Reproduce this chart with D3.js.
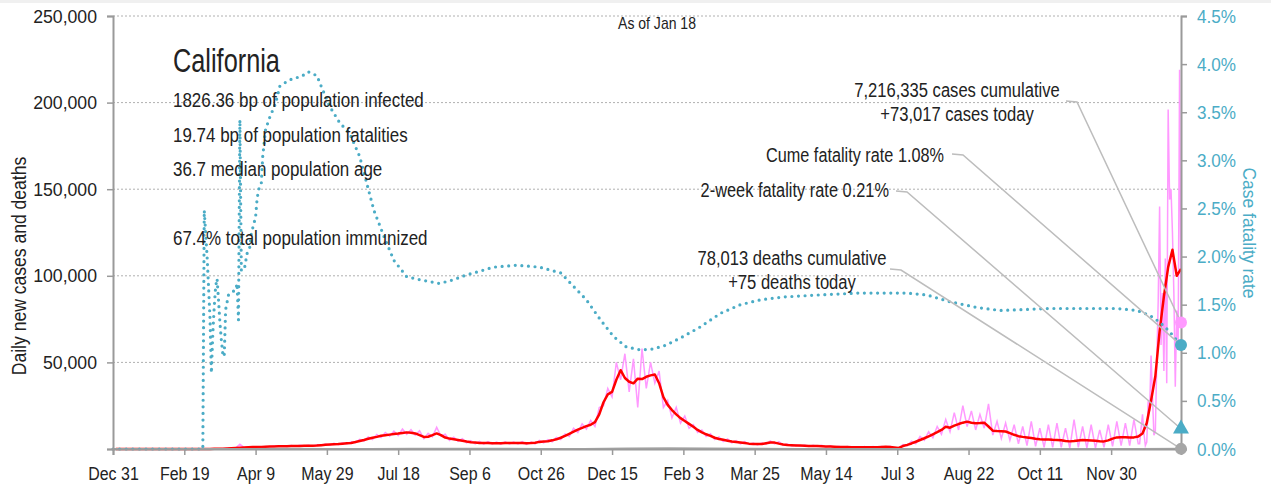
<!DOCTYPE html>
<html>
<head>
<meta charset="utf-8">
<script src="https://cdn.jsdelivr.net/npm/d3@7"></script>
<style>
  body { margin: 0; background: #fff; }
  svg text { font-family: "Liberation Sans", Arial, sans-serif; fill: #222; }
</style>
</head>
<body>
<svg id="chart" width="1271" height="491"></svg>
<script>
// days are counted from Dec 31, 2019; last point is Jan 18, 2022
const lastDay = 749;
const xTickLabels = ["Dec 31", "Feb 19", "Apr 9", "May 29", "Jul 18", "Sep 6", "Oct 26", "Dec 15",
  "Feb 3", "Mar 25", "May 14", "Jul 3", "Aug 22", "Oct 11", "Nov 30"];

// 7-day average of new cases, thousands, one value every 3 days starting day 2
const caseStart = 2, caseStep = 3;
const avgCasesK = [
  0, 0, 0, 0, 0, 0, 0, 0, 0, 0,
  0, 0, 0, 0, 0, 0, 0, 0, 0, 0,
  0, 0.02, 0.05, 0.1, 0.15, 0.2, 0.3, 0.45, 0.6, 0.75,
  0.9, 1.0, 1.1, 1.15, 1.2, 1.3, 1.4, 1.5, 1.55, 1.6,
  1.65, 1.7, 1.8, 1.8, 1.85, 1.9, 1.9, 2.0, 2.2, 2.4,
  2.6, 2.8, 2.9, 3.1, 3.3, 3.5, 4.0, 4.6, 5.2, 5.9,
  6.5, 7.0, 7.6, 8.0, 8.3, 8.6, 8.9, 9.3, 9.6, 9.4,
  9.0, 8.0, 7.0, 7.1, 8.0, 9.0, 8.0, 6.6, 6.0, 5.6,
  5.2, 4.8, 4.3, 3.9, 3.7, 3.5, 3.4, 3.4, 3.3, 3.3,
  3.3, 3.4, 3.4, 3.4, 3.4, 3.4, 3.3, 3.4, 3.6, 4.1,
  4.3, 4.5, 5.0, 5.6, 6.5, 7.6, 8.8, 10, 11.2, 12.2,
  13.2, 14, 15.5, 20, 27, 31.5, 33, 40, 45.5, 41,
  38.8, 37.9, 40.6, 40.4, 41.7, 42.5, 43, 38, 30, 25.5,
  22.5, 20, 17.8, 16.2, 14.5, 12.8, 11, 9.6, 8.5, 7.6,
  6.5, 5.8, 5.3, 4.8, 4.3, 4.0, 3.7, 3.4, 3.1, 2.9,
  2.9, 2.9, 3.3, 3.7, 3.7, 3.1, 2.6, 2.3, 2.2, 2.0,
  1.95, 1.9, 1.8, 1.75, 1.7, 1.6, 1.5, 1.4, 1.3, 1.2,
  1.15, 1.1, 1.05, 1.0, 1.0, 1.0, 1.0, 1.0, 1.05, 1.15,
  1.3, 1.2, 0.9, 0.6, 1.7, 2.4, 3.2, 4.2, 5.2, 6.2,
  7.3, 8.5, 9.7, 11, 12.8, 12.3, 13.5, 14.4, 15.2, 15.8,
  15.2, 14.9, 15.0, 15.2, 13, 10.6, 10.4, 10.3, 10.1, 9.2,
  8.2, 7.4, 7.0, 6.7, 6.3, 5.9, 5.6, 5.5, 5.5, 5.3,
  5.2, 5.0, 4.6, 4.4, 4.6, 4.9, 5.2, 5.1, 4.9, 4.7,
  4.5, 4.4, 5.0, 6.0, 6.7, 6.8, 6.8, 6.7, 6.7, 7.2,
  9, 15, 28, 42, 68, 88, 105, 115, 100, 104
];

// daily new cases, thousands, every 3 days from day 2 to day 719
const dailyCasesK = [
  0, 0, 0, 0, 0, 0, 0, 0, 0, 0,
  0, 0, 0, 0, 0, 0, 0, 0, 0, 0,
  0, 0.03, 0.04, 0.1, 0.2, 0.15, 0.35, 0.5, 0.6, 2.8,
  0.8, 1.2, 0.9, 1.3, 1.0, 1.5, 1.2, 1.7, 1.4, 1.8,
  1.4, 2.0, 1.6, 2.1, 1.7, 2.2, 1.6, 2.4, 2.0, 2.8,
  2.2, 3.3, 2.5, 3.6, 2.9, 4.2, 3.6, 5.6, 4.6, 7.0,
  5.5, 8.4, 6.6, 9.5, 7.4, 10.3, 7.8, 11.5, 8.5, 11.2,
  8.0, 10.5, 6.0, 9.0, 7.0, 12.5, 7.5, 8.5, 5.0, 6.8,
  4.5, 6.0, 3.6, 4.8, 3.0, 4.4, 2.8, 4.2, 2.9, 4.0,
  2.8, 4.1, 2.9, 4.0, 2.9, 4.2, 2.7, 4.0, 3.0, 5.0,
  3.6, 5.4, 4.2, 6.7, 5.5, 8.7, 7.2, 12, 9.5, 14.5,
  11.5, 16.5, 13, 24, 25, 35, 30, 50, 40, 55,
  33, 52, 24, 58, 35, 50, 38, 45, 24, 28,
  18, 24, 15, 19, 12, 14, 9.5, 11, 7.2, 8.8,
  5.5, 7.0, 4.3, 5.8, 3.6, 4.8, 3.0, 4.2, 2.6, 3.4,
  2.4, 3.5, 2.8, 4.6, 3.0, 4.2, 2.2, 2.8, 1.8, 2.4,
  1.6, 2.3, 1.5, 2.2, 1.4, 2.1, 1.2, 1.8, 1.0, 1.6,
  0.9, 1.4, 0.8, 1.3, 0.8, 1.4, 0.7, 1.4, 0.9, 1.5,
  1.1, 1.6, 0.3, 0.2, 2.6, 1.8, 4.5, 3.0, 7.2, 5.0,
  10, 6.5, 13, 8.5, 17, 10, 21, 11, 25, 13,
  22, 11, 20, 12, 26, 8, 16, 6, 15, 5,
  14, 3, 13, 2, 16, 1.5, 12, 1, 14, 1,
  15, 1, 12, 0.5, 17, 1, 13, 0.5, 14, 0.5,
  11, 1, 14, 1.5, 16, 2, 15, 2, 17, 3
];
// daily new cases, thousands, every day from day 720 to day 749
const lateStart = 720;
const lateDailyCasesK = [
  3, 12, 20, 9, 2, 4, 28, 22, 54, 30,
  8, 10, 50, 85, 140, 60, 90, 45, 110, 38,
  196, 144, 150, 125, 90, 36, 80, 60, 219, 73.017
];

// case fatality rate, %
const cfrDays = [0, 63, 64, 66, 67, 68, 69, 70, 71, 72, 73, 74, 75, 76, 77, 78, 79, 81, 83, 86,
  87, 88, 89, 90, 92, 94, 96, 97, 100, 101, 102, 104, 105, 107, 110, 114, 117, 122, 126, 132,
  137, 143, 146, 152, 159, 166, 173, 178, 183, 190, 197, 206, 215, 229, 239, 248, 253, 267, 283, 299,
  314, 323, 332, 342, 351, 360, 370, 379, 388, 400, 412, 426, 440, 454, 470, 494, 522, 557, 571, 587,
  606, 622, 657, 704, 718, 727, 734, 741, 749];
const cfrPct = [0, 0, 2.48, 2.0, 1.69, 1.37, 0.79, 1.2, 1.48, 1.69, 1.77, 1.55, 1.31, 1.13, 0.99, 0.96, 1.45, 1.6, 1.63, 1.65,
  1.72, 1.34, 3.42, 1.86, 1.86, 2.03, 2.1, 2.24, 2.41, 2.59, 2.69, 2.76, 3.04, 3.32, 3.45, 3.59, 3.77, 3.82, 3.85, 3.87,
  3.92, 3.88, 3.77, 3.56, 3.39, 3.28, 3.04, 2.76, 2.48, 2.21, 1.96, 1.79, 1.76, 1.72, 1.76, 1.81, 1.83, 1.89, 1.91, 1.89,
  1.83, 1.69, 1.55, 1.34, 1.17, 1.06, 1.03, 1.04, 1.08, 1.17, 1.27, 1.41, 1.50, 1.55, 1.58, 1.60, 1.62, 1.62, 1.60, 1.53,
  1.47, 1.44, 1.46, 1.46, 1.44, 1.39, 1.32, 1.22, 1.08];

// daily deaths (sits on the baseline at this scale)
const deathDays = [0, 60, 90, 120, 150, 180, 210, 240, 270, 300, 330, 360, 390, 420, 450, 480, 510, 540, 570, 600, 630, 660, 690, 720, 749];
const dailyDeaths = [0, 5, 60, 80, 70, 70, 130, 120, 80, 60, 50, 250, 500, 300, 120, 50, 30, 20, 30, 90, 100, 60, 40, 40, 75];

const todayCasesK = 73.017;
const cumeCfr = 1.08;
const twoWeekCfr = 0.21;
const todayDeaths = 75;

const stateName = "California";
const stateStats = ["1826.36 bp of population infected", "19.74 bp of population fatalities",
  "36.7 median population age", "", "67.4% total population immunized"];

const blue = "#4bacc6";
const leaderColor = "#bdbdbd";

const svg = d3.select("#chart");
svg.append("rect").attr("width", 1271).attr("height", 3).attr("fill", "#f0f0f0");

// narrow text: the reference uses a condensed face, so squeeze a regular one
function label(x, y, str, size, anchor, sx, fill) {
  return svg.append("text")
    .attr("transform", "translate(" + x + "," + y + ") scale(" + sx + ",1)")
    .style("text-anchor", anchor)
    .style("font-size", size + "px")
    .style("fill", fill || "#222")
    .text(str);
}

const x = d3.scaleLinear().domain([0, lastDay]).range([113, 1181]);
const yL = d3.scaleLinear().domain([0, 250]).range([449, 16]);
const yR = d3.scaleLinear().domain([0, 4.5]).range([449, 16]);

// gridlines
svg.append("g")
  .selectAll("line")
  .data([50, 100, 150, 200, 250])
  .enter()
  .append("line")
  .attr("x1", x(0)).attr("x2", x(lastDay))
  .attr("y1", d => yL(d)).attr("y2", d => yL(d))
  .attr("stroke", "#b0b0b0")
  .attr("stroke-width", 1)
  .attr("stroke-dasharray", "2,2");

// series
const avgData = avgCasesK.map((v, i) => [caseStart + i * caseStep, v]);
const dailyData = dailyCasesK.map((v, i) => [caseStart + i * caseStep, v])
  .concat(lateDailyCasesK.map((v, i) => [lateStart + i, v]));
const cfrData = cfrDays.map((d, i) => [d, cfrPct[i]]);
const deathData = deathDays.map((d, i) => [d, dailyDeaths[i] / 1000]);

const lineL = d3.line().x(d => x(d[0])).y(d => yL(d[1]));
const lineR = d3.line().x(d => x(d[0])).y(d => yR(d[1]));

svg.append("path").attr("d", lineL(dailyData))
  .attr("fill", "none").attr("stroke", "#ff99ff").attr("stroke-width", 1.5);
svg.append("path").attr("d", lineL(avgData))
  .attr("fill", "none").attr("stroke", "#ff0000").attr("stroke-width", 2.5)
  .attr("stroke-linejoin", "round");
svg.append("path").attr("d", lineL(deathData))
  .attr("fill", "none").attr("stroke", "#a6a6a6").attr("stroke-width", 2);
svg.append("path").attr("d", lineR(cfrData))
  .attr("fill", "none").attr("stroke", blue).attr("stroke-width", 3.2)
  .attr("stroke-linecap", "round").attr("stroke-dasharray", "0 6.6");

// axes
const axisColor = "#9a9a9a";
const gL = svg.append("g").attr("transform", "translate(" + x(0) + ",0)")
  .call(d3.axisLeft(yL).tickValues([0, 50, 100, 150, 200, 250])
    .tickFormat(d => d === 0 ? "" : d3.format(",")(d * 1000))
    .tickSize(6).tickPadding(10));
const gR = svg.append("g").attr("transform", "translate(" + x(lastDay) + ",0)")
  .call(d3.axisRight(yR).tickValues(d3.range(0, 4.51, 0.5))
    .tickFormat(d => d3.format(".1f")(d) + "%")
    .tickSize(6).tickPadding(10));
const gB = svg.append("g").attr("transform", "translate(0," + yL(0) + ")")
  .call(d3.axisBottom(x).tickValues(d3.range(0, 701, 50))
    .tickFormat((d, i) => xTickLabels[i])
    .tickSize(6).tickPadding(12));

[gL, gR, gB].forEach(g => {
  g.select(".domain").attr("stroke", axisColor).attr("stroke-width", 2);
  g.selectAll(".tick line").attr("stroke", axisColor).attr("stroke-width", 1.5);
  g.selectAll("text").attr("font-family", null).attr("font-size", null);
});
gL.selectAll("text").style("font-size", "19px").style("fill", "#222")
  .attr("x", -16 / 0.93).attr("transform", "scale(0.93,1)");
gR.selectAll("text").style("font-size", "19px").style("fill", blue)
  .attr("x", 16 / 0.9).attr("transform", "scale(0.9,1)");
gB.selectAll("text").style("font-size", "19px").style("fill", "#222")
  .attr("transform", "scale(0.84,1)");

// axis titles
svg.append("text")
  .attr("transform", "translate(26,266) rotate(-90) scale(0.9,1)")
  .style("text-anchor", "middle").style("font-size", "19.5px")
  .text("Daily new cases and deaths");
svg.append("text")
  .attr("transform", "translate(1243,233) rotate(90) scale(0.94,1)")
  .style("text-anchor", "middle").style("font-size", "18.6px").style("fill", blue)
  .text("Case fatality rate");

label(657, 29, "As of Jan 18", 16.8, "middle", 0.835);

// state block
label(173, 72, stateName, 33.5, "start", 0.756);
stateStats.forEach((t, i) => label(173, 107 + i * 34.6, t, 21, "start", 0.808));

// callouts: label lines, then leader line to the end marker
const callouts = [
  { lines: ["7,216,335 cases cumulative", "+73,017 cases today"], anchor: "middle", tx: 957, ty: 97, sx: 0.79,
    lx: 1066, ly: 101, end: [x(lastDay), yL(todayCasesK)] },
  { lines: ["Cume fatality rate 1.08%"], anchor: "end", tx: 944, ty: 162, sx: 0.775,
    lx: 952, ly: 154, end: [x(lastDay), yR(cumeCfr)] },
  { lines: ["2-week fatality rate 0.21%"], anchor: "end", tx: 889, ty: 197, sx: 0.78,
    lx: 896, ly: 191, end: [x(lastDay), yR(twoWeekCfr)] },
  { lines: ["78,013 deaths cumulative", "+75 deaths today"], anchor: "middle", tx: 792, ty: 265, sx: 0.79,
    lx: 890, ly: 269, end: [x(lastDay), yL(todayDeaths / 1000)] }
];
callouts.forEach(c => {
  svg.append("polyline")
    .attr("points", [[c.lx, c.ly], [c.lx + 11, c.ly + 1], c.end].map(p => p.join(",")).join(" "))
    .attr("fill", "none").attr("stroke", leaderColor).attr("stroke-width", 1.5);
  c.lines.forEach((t, i) => label(c.tx, c.ty + i * 24, t, 21, c.anchor, c.sx));
});

// end markers
svg.append("circle").attr("cx", x(lastDay)).attr("cy", yL(todayCasesK)).attr("r", 6).attr("fill", "#ff99ff");
svg.append("circle").attr("cx", x(lastDay)).attr("cy", yR(cumeCfr)).attr("r", 6).attr("fill", blue);
svg.append("path")
  .attr("d", d3.symbol(d3.symbolTriangle, 110)())
  .attr("transform", "translate(" + x(lastDay) + "," + yR(twoWeekCfr) + ")")
  .attr("fill", blue);
svg.append("circle").attr("cx", x(lastDay)).attr("cy", yL(todayDeaths / 1000)).attr("r", 6).attr("fill", "#a6a6a6");
</script>
</body>
</html>
